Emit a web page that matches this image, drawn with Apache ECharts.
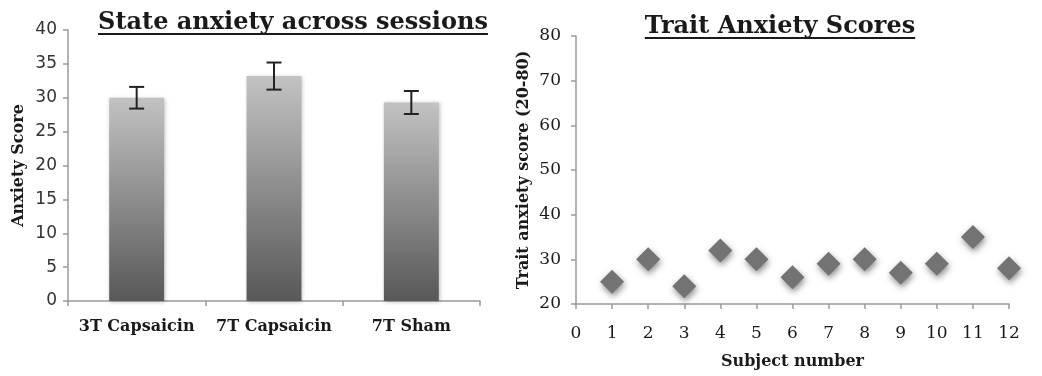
<!DOCTYPE html>
<html>
<head>
<meta charset="utf-8">
<script src="https://cdn.jsdelivr.net/npm/echarts@6/dist/echarts.min.js"></script>
<style>
  html, body { margin: 0; padding: 0; background: #fff; }
  #chart { width: 1042px; height: 376px; }
</style>
</head>
<body>
<div id="chart"></div>
<script>
// State anxiety (mean ± error) per scanning session
const sessions = ['3T Capsaicin', '7T Capsaicin', '7T Sham'];
const stateMeans = [30, 33.2, 29.3];
const stateErrors = [1.6, 2.0, 1.7];

// Trait anxiety score per subject
const subjects = [1, 2, 3, 4, 5, 6, 7, 8, 9, 10, 11, 12];
const traitScores = [25, 30, 24, 32, 30, 26, 29, 30, 27, 29, 35, 28];

const titles = ['State anxiety across sessions', 'Trait Anxiety Scores'];

const SERIF = '"DejaVu Serif", "Liberation Serif", serif';
const SANS = '"DejaVu Sans", "Liberation Sans", sans-serif';
const AXIS_GREY = '#9a9a9a';
const TEXT = '#1a1a1a';

const titleFont = { size: 24, weight: 'bold' };
const titleSpecs = [
  { cx: 293, top: 11 },
  { cx: 780, top: 15 }
];

function measure(text, size, weight) {
  const ctx = document.createElement('canvas').getContext('2d');
  ctx.font = weight + ' ' + size + 'px ' + SERIF;
  return ctx.measureText(text).width;
}

// Titles are drawn as text with an underline beneath each
const graphics = [];
titles.forEach(function (t, i) {
  const spec = titleSpecs[i];
  const w = measure(t, titleFont.size, titleFont.weight);
  graphics.push({
    type: 'text',
    left: spec.cx - w / 2,
    top: spec.top,
    style: {
      text: t,
      font: titleFont.weight + ' ' + titleFont.size + 'px ' + SERIF,
      fill: TEXT
    }
  });
  const y = spec.top + 23;
  graphics.push({
    type: 'line',
    shape: { x1: spec.cx - w / 2, y1: y, x2: spec.cx + w / 2, y2: y },
    style: { stroke: TEXT, lineWidth: 2 }
  });
});

const chart = echarts.init(document.getElementById('chart'), null, { renderer: 'canvas' });

chart.setOption({
  animation: false,
  backgroundColor: '#fff',
  graphic: graphics,
  grid: [
    { left: 68, top: 30, width: 412, height: 271 },
    { left: 576, top: 36, width: 433, height: 268 }
  ],
  xAxis: [
    {
      gridIndex: 0,
      type: 'category',
      data: sessions,
      axisLine: { lineStyle: { color: AXIS_GREY, width: 1.5 } },
      axisTick: { show: true, length: 5, lineStyle: { color: AXIS_GREY, width: 1.5 } },
      axisLabel: {
        interval: 0,
        margin: 18,
        color: TEXT,
        fontFamily: SERIF,
        fontWeight: 'bold',
        fontSize: 16
      }
    },
    {
      gridIndex: 1,
      type: 'value',
      min: 0,
      max: 12,
      interval: 1,
      name: 'Subject number',
      nameLocation: 'middle',
      nameGap: 50,
      nameTextStyle: { color: TEXT, fontFamily: SERIF, fontWeight: 'bold', fontSize: 16 },
      splitLine: { show: false },
      axisLine: { lineStyle: { color: AXIS_GREY, width: 1.5 } },
      axisTick: { show: true, length: 5, lineStyle: { color: AXIS_GREY, width: 1.5 } },
      axisLabel: { margin: 21, color: TEXT, fontFamily: SERIF, fontSize: 17 }
    }
  ],
  yAxis: [
    {
      gridIndex: 0,
      type: 'value',
      min: 0,
      max: 40,
      interval: 5,
      name: 'Anxiety Score',
      nameLocation: 'middle',
      nameGap: 41,
      nameTextStyle: { color: TEXT, fontFamily: SERIF, fontWeight: 'bold', fontSize: 16 },
      splitLine: { show: false },
      axisLine: { show: true, lineStyle: { color: AXIS_GREY, width: 1.5 } },
      axisTick: { show: true, length: 5, lineStyle: { color: AXIS_GREY, width: 1.5 } },
      axisLabel: { margin: 11, color: '#333', fontFamily: SANS, fontSize: 17 }
    },
    {
      gridIndex: 1,
      type: 'value',
      min: 20,
      max: 80,
      interval: 10,
      name: 'Trait anxiety score (20-80)',
      nameLocation: 'middle',
      nameGap: 44,
      nameTextStyle: { color: TEXT, fontFamily: SERIF, fontWeight: 'bold', fontSize: 16 },
      splitLine: { show: false },
      axisLine: { show: true, lineStyle: { color: AXIS_GREY, width: 1.5 } },
      axisTick: { show: true, length: 5, lineStyle: { color: AXIS_GREY, width: 1.5 } },
      axisLabel: { margin: 15, color: TEXT, fontFamily: SERIF, fontSize: 17 }
    }
  ],
  series: [
    {
      type: 'bar',
      xAxisIndex: 0,
      yAxisIndex: 0,
      data: stateMeans,
      barWidth: '40%',
      itemStyle: {
        color: new echarts.graphic.LinearGradient(0, 0, 0, 1, [
          { offset: 0, color: '#c2c2c2' },
          { offset: 1, color: '#585858' }
        ]),
        shadowColor: 'rgba(0,0,0,0.25)',
        shadowBlur: 4,
        shadowOffsetX: 1,
        shadowOffsetY: 1
      },
      z: 2
    },
    {
      // error bars: mean ± error with short caps
      type: 'custom',
      xAxisIndex: 0,
      yAxisIndex: 0,
      data: stateMeans.map(function (m, i) { return [i, m - stateErrors[i], m + stateErrors[i]]; }),
      renderItem: function (params, api) {
        const x = api.value(0);
        const lo = api.coord([x, api.value(1)]);
        const hi = api.coord([x, api.value(2)]);
        const half = 7.5;
        const style = { stroke: '#222', lineWidth: 2 };
        return {
          type: 'group',
          children: [
            { type: 'line', shape: { x1: lo[0], y1: lo[1], x2: hi[0], y2: hi[1] }, style: style },
            { type: 'line', shape: { x1: lo[0] - half, y1: lo[1], x2: lo[0] + half, y2: lo[1] }, style: style },
            { type: 'line', shape: { x1: hi[0] - half, y1: hi[1], x2: hi[0] + half, y2: hi[1] }, style: style }
          ]
        };
      },
      z: 5
    },
    {
      type: 'scatter',
      xAxisIndex: 1,
      yAxisIndex: 1,
      data: subjects.map(function (s, i) { return [s, traitScores[i]]; }),
      symbol: 'diamond',
      symbolSize: [24, 24],
      clip: false,
      itemStyle: {
        color: '#737373',
        opacity: 1,
        shadowColor: 'rgba(0,0,0,0.45)',
        shadowBlur: 6,
        shadowOffsetX: 1,
        shadowOffsetY: 3
      }
    }
  ]
});
</script>
</body>
</html>
